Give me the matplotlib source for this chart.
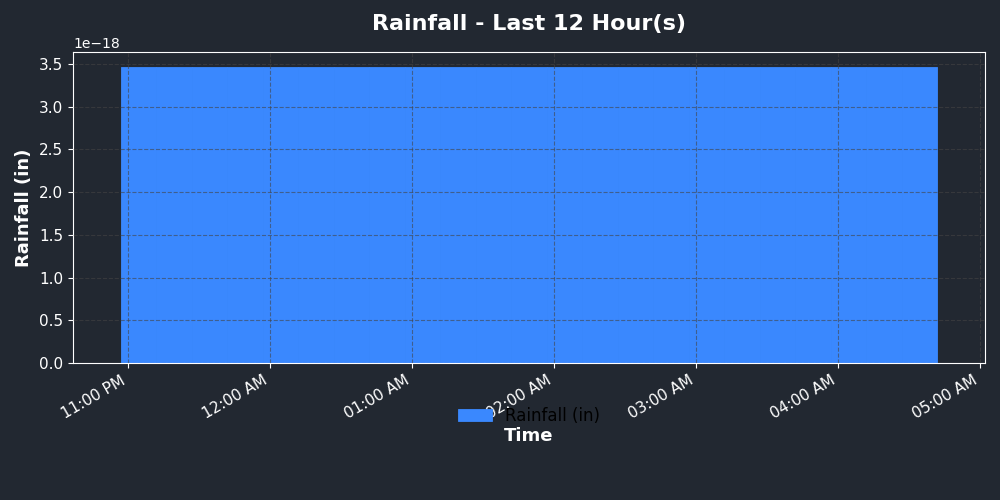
from datetime import datetime, timedelta

import matplotlib
matplotlib.use('Agg')
import matplotlib.pyplot as plt
import matplotlib.dates as mdates


bg_color = '#222831'
bar_color = '#3a88fe'

# 15-minute readings, all the same tiny accumulated value
start_time = datetime(2024, 1, 1, 22, 57)
n_readings = 23
times = [start_time + timedelta(minutes=15 * i) for i in range(n_readings)]
rainfall = [3.465e-18] * n_readings
bar_width = timedelta(minutes=15)

x_limits = [datetime(2024, 1, 1, 22, 36, 48), datetime(2024, 1, 2, 5, 2, 6)]


fig, ax = plt.subplots(figsize=(10, 5), dpi=100)
fig.patch.set_facecolor(bg_color)
ax.set_facecolor(bg_color)

ax.bar(times, rainfall, width=bar_width, align='edge',
       color=bar_color, edgecolor=bar_color, linewidth=0.6,
       label='Rainfall (in)')

ax.set_xlim(x_limits)
ax.xaxis.set_major_locator(mdates.HourLocator())
ax.xaxis.set_major_formatter(mdates.DateFormatter('%I:%M %p'))

ax.set_title('Rainfall - Last 12 Hour(s)', color='white',
             fontsize=16, fontweight='bold', pad=16)
ax.set_xlabel('Time', color='white', fontsize=13, fontweight='bold')
ax.set_ylabel('Rainfall (in)', color='white', fontsize=13, fontweight='bold')

ax.tick_params(colors='white', labelsize=11)
ax.yaxis.get_offset_text().set_color('white')
ax.yaxis.get_offset_text().set_fontsize(10)
for spine in ax.spines.values():
    spine.set_color('white')

ax.set_axisbelow(False)
ax.grid(True, linestyle='--', color='#444444', alpha=0.6)

leg = ax.legend(loc='upper center', bbox_to_anchor=(0.5, -0.093),
                frameon=False, fontsize=12)

fig.autofmt_xdate()
fig.subplots_adjust(left=0.073, right=0.985, top=0.896, bottom=0.274)
fig.savefig('out.png', facecolor=bg_color)
